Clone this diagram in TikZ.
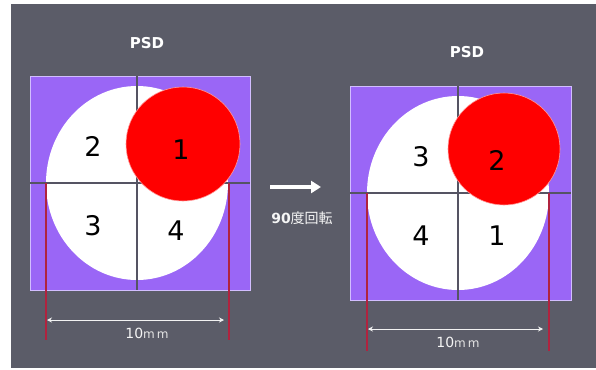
\documentclass[tikz,border=0pt]{standalone}
\usepackage{fontspec}
\setmainfont{DejaVu Sans}
\newfontfamily\cjk{Noto Sans CJK JP}
\usetikzlibrary{arrows.meta}
\definecolor{bggray}{HTML}{5B5C68}
\definecolor{psdpurple}{HTML}{9A66F6}
\definecolor{psdedge}{HTML}{D2BEFF}
\definecolor{crossgray}{HTML}{555463}
\definecolor{dimred}{HTML}{B0233F}
\definecolor{spotred}{HTML}{FF0000}
\tikzset{
  sq/.style={fill=psdpurple,draw=psdedge,line width=0.8pt},
  spot/.style={fill=white},
  beam/.style={fill=spotred,draw=red!40!white,line width=0.6pt},
  crossln/.style={draw=crossgray,line width=1.4pt},
  redln/.style={draw=dimred,line width=1.2pt},
  dimarr/.style={draw=white!90!gray,line width=1pt,{Stealth[length=5pt,width=5pt]}-{Stealth[length=5pt,width=5pt]}},
  num/.style={font=\fontsize{27}{27}\selectfont,text=black,inner sep=0pt},
  title/.style={font=\fontsize{15}{15}\selectfont\bfseries,text=white,inner sep=0pt},
  dimlbl/.style={text=white!92!gray,inner sep=0pt},
  bigarr/.style={draw=white,line width=4pt,-{Triangle[length=10pt,width=12pt]}}
}
\begin{document}
\begin{tikzpicture}[x=1pt,y=-1pt]
\useasboundingbox (0,0) rectangle (596,369);
\fill[white] (0,0) rectangle (596,369);
\fill[bggray] (11,4) rectangle (596,368);

% ---------- left panel ----------
\node[title] (psdL) at (147,43) {PSD};
\path[sq] (30,76) rectangle (250,290);
\path[spot] (137,183) ellipse [x radius=91, y radius=97];
\coordinate (lT) at (137,76); \coordinate (lB) at (137,290);
\coordinate (lL) at (30,183); \coordinate (lR) at (250,183);
\draw[crossln] (lT) -- (lB);
\draw[crossln] (lL) -- (lR);
\path[beam] (183,144) circle [radius=57];
\node[num] (l2) at (93,146) {2};
\node[num] (l1) at (181,150) {1};
\node[num] (l3) at (93,226) {3};
\node[num] (l4) at (176,231) {4};
\coordinate (la1) at (46,183); \coordinate (la2) at (46,340);
\coordinate (lb1) at (229,183); \coordinate (lb2) at (229,340);
\draw[redln] (la1) -- (la2);
\draw[redln] (lb1) -- (lb2);
\coordinate (ld1) at (47,320); \coordinate (ld2) at (224,320);
\draw[dimarr] (ld1) -- (ld2);
\node[dimlbl] (lmm) at (147,333) {\fontsize{14}{14}\selectfont 10\fontsize{12}{12}\selectfont\color{white!80!gray}m\,m};

% ---------- rotation arrow ----------
\coordinate (arA) at (270,187); \coordinate (arB) at (321,187);
\draw[bigarr] (arA) -- (arB);
\node[inner sep=0pt,text=white!92!gray] (rot) at (302,218)
  {\fontsize{14}{14}\selectfont\bfseries 90\cjk\mdseries\fontsize{14}{14}\selectfont 度回転};

% ---------- right panel ----------
\node[title] (psdR) at (467,52) {PSD};
\path[sq] (350,86) rectangle (571,300);
\path[spot] (458,193) ellipse [x radius=91, y radius=97];
\coordinate (rT) at (458,86); \coordinate (rB) at (458,300);
\coordinate (rL) at (350,193); \coordinate (rR) at (571,193);
\draw[crossln] (rT) -- (rB);
\draw[crossln] (rL) -- (rR);
\path[beam] (504,149) circle [radius=56];
\node[num] (r3) at (421,157) {3};
\node[num] (r2) at (497,160) {2};
\node[num] (r4) at (421,236) {4};
\node[num] (r1) at (497,236) {1};
\coordinate (ra1) at (367,193); \coordinate (ra2) at (367,351);
\coordinate (rb1) at (549,193); \coordinate (rb2) at (549,351);
\draw[redln] (ra1) -- (ra2);
\draw[redln] (rb1) -- (rb2);
\coordinate (rd1) at (368,329); \coordinate (rd2) at (543,329);
\draw[dimarr] (rd1) -- (rd2);
\node[dimlbl] (rmm) at (458,342) {\fontsize{14}{14}\selectfont 10\fontsize{12}{12}\selectfont\color{white!80!gray}m\,m};
\end{tikzpicture}
\end{document}
